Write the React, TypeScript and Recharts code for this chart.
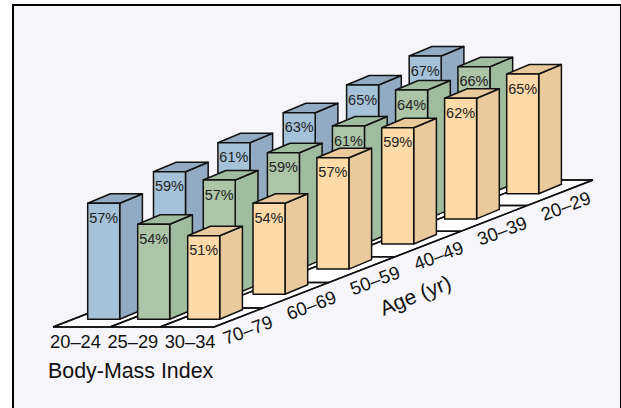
import { ComposedChart, Bar, Area, Scatter, XAxis, YAxis } from 'recharts';

const W = 621;
const H = 408;

const ages = ['70–79', '60–69', '50–59', '40–49', '30–39', '20–29'];
const bmis = ['20–24', '25–29', '30–34'];

// printed percentages, one list per BMI group, oldest age group first
const pct20 = [57, 59, 61, 63, 65, 67];
const pct25 = [54, 57, 59, 61, 64, 66];
const pct30 = [51, 54, 57, 59, 62, 65];
const labels = [pct20, pct25, pct30];

// bar heights (they do not scale cleanly with the labels)
const height20 = [116, 122.5, 126.4, 131.3, 133.9, 137.8];
const height25 = [95, 114.2, 116.4, 118, 128.9, 127.1];
const height30 = [83.6, 90.9, 111.4, 116.3, 120.6, 119.8];
const heights = [height20, height25, height30];

const frontColors = ['#a6c2d8', '#abc5a6', '#fddaa8'];
const sideColors = ['#92aac2', '#a0bc9e', '#eaca9c'];

// oblique projection of the floor, in chart units
const barW = 32;
const colStep = 50;
const rowDx = 64.3;
const rowDy = 25.1;
const rowShift = [0, 1.5, 1.6, 2.6, 1.7, 0]; // rows are not quite evenly spaced in the original
const originX = 103.7;
const originY = H - 319.3;
const depthX = 22.7;
const depthY = 9.5;

const barRows: any[] = [];
for (let row = ages.length - 1; row >= 0; row--) {
  labels.forEach((vals, col) => {
    const base = originY + row * rowDy;
    barRows.push({
      x: originX + col * colStep + row * (rowDx - col * 0.25) + rowShift[row],
      range: [base, base + heights[col][row]],
      pct: vals[row],
      col,
    });
  });
}

const floorFrontY = H - 327;
const floorBackY = H - 180;
const floorL = 53;
const floorR = 214;
const floorShift = 379;
const slope = (floorBackY - floorFrontY) / floorShift;

const floorRows = [
  { x: floorL, band: [floorFrontY, floorFrontY] },
  { x: floorR, band: [floorFrontY, floorFrontY + (floorR - floorL) * slope] },
  { x: floorL + floorShift, band: [floorFrontY + (floorL + floorShift - floorR) * slope, floorBackY] },
  { x: floorR + floorShift, band: [floorBackY, floorBackY] },
];

const seg = (x1: number, y1: number, x2: number, y2: number) => [
  { x: x1, band: [y1, y1] },
  { x: x2, band: [y2, y2] },
];

// lines running along the floor: front edge, depth lines, age separators
const floorLines: any[] = [
  seg(floorL, floorFrontY, floorR, floorFrontY),
  seg(floorR, floorFrontY, floorR + floorShift, floorBackY),
  seg(floorL, floorFrontY, floorL + floorShift, floorBackY),
  seg(floorL + 57, floorFrontY, floorL + 57 + floorShift, floorBackY),
  seg(floorL + 107, floorFrontY, floorL + 107 + floorShift, floorBackY),
];
ages.forEach((_, i) => {
  const dx = 49 + 66 * i;
  const y = floorFrontY + dx * slope;
  floorLines.push(seg(floorL + dx, y, floorR + dx, y));
});

const textRows = [
  ...bmis.map((t, i) => ({ x: 75.5 + i * 57.3, y: H - 348, t, rot: 0, size: 18.3, anchor: 'middle' })),
  ...ages.map((t, i) => ({ x: 250 + i * 63.6, y: H - 336 + i * 24.8, t, rot: -20.5, size: 18.5, anchor: 'middle' })),
  { x: 48, y: H - 378, t: 'Body-Mass Index', rot: 0, size: 21.4, anchor: 'start' },
  { x: 418, y: H - 302, t: 'Age (yr)', rot: -22, size: 21, anchor: 'middle' },
];

const Bar3D = (props: any) => {
  const { x, y, width, height, payload } = props;
  const c = payload.col;
  const left = x + width / 2 - barW / 2;
  const right = left + barW;
  const bottom = y + height;
  const line = { stroke: '#111', strokeWidth: 1.5, strokeLinejoin: 'round' as const };
  return (
    <g>
      <polygon
        points={`${right},${y} ${right + depthX},${y - depthY} ${right + depthX},${bottom - depthY} ${right},${bottom}`}
        fill={sideColors[c]}
        {...line}
      />
      <polygon
        points={`${left},${y} ${left + depthX},${y - depthY} ${right + depthX},${y - depthY} ${right},${y}`}
        fill={sideColors[c]}
        {...line}
      />
      <rect x={left} y={y} width={barW} height={height} fill={frontColors[c]} {...line} />
      <text
        x={left + barW / 2}
        y={y + 19.5}
        textAnchor="middle"
        fontSize={14.5}
        fill="#222"
        fontFamily="Liberation Sans, Arial, sans-serif"
      >
        {payload.pct}%
      </text>
    </g>
  );
};

const PlainText = (props: any) => {
  const { cx, cy, payload } = props;
  return (
    <text
      x={cx}
      y={cy}
      textAnchor={payload.anchor}
      fontSize={payload.size}
      fill="#111"
      fontFamily="Liberation Sans, Arial, sans-serif"
      transform={payload.rot ? `rotate(${payload.rot} ${cx} ${cy})` : undefined}
    >
      {payload.t}
    </text>
  );
};

export default function App() {
  return (
    <div style={{ position: 'absolute', left: 0, top: 0, width: W, height: H, background: '#fff', overflow: 'hidden' }}>
      <div
        style={{
          position: 'absolute',
          left: 12,
          top: 4,
          width: 610,
          height: 412,
          boxSizing: 'border-box',
          border: '2px solid #000',
          background: '#f5f5fa',
        }}
      />
      <div style={{ position: 'absolute', left: 0, top: 0 }}>
        <ComposedChart width={W} height={H} data={barRows} margin={{ top: 0, right: 0, bottom: 0, left: 0 }}>
          <XAxis type="number" dataKey="x" domain={[0, W]} hide allowDataOverflow />
          <YAxis type="number" domain={[0, H]} hide allowDataOverflow />
          <Area
            data={floorRows}
            dataKey="band"
            type="linear"
            fill="#ffffff"
            fillOpacity={1}
            stroke="none"
            dot={false}
            activeDot={false}
            isAnimationActive={false}
          />
          {floorLines.map((d, i) => (
            <Area
              key={i}
              data={d}
              dataKey="band"
              type="linear"
              fill="none"
              stroke="#111"
              strokeWidth={1.5}
              dot={false}
              activeDot={false}
              isAnimationActive={false}
            />
          ))}
          <Scatter data={textRows} dataKey="y" shape={<PlainText />} isAnimationActive={false} />
          <Bar dataKey="range" barSize={32} shape={<Bar3D />} isAnimationActive={false} />
        </ComposedChart>
      </div>
    </div>
  );
}
